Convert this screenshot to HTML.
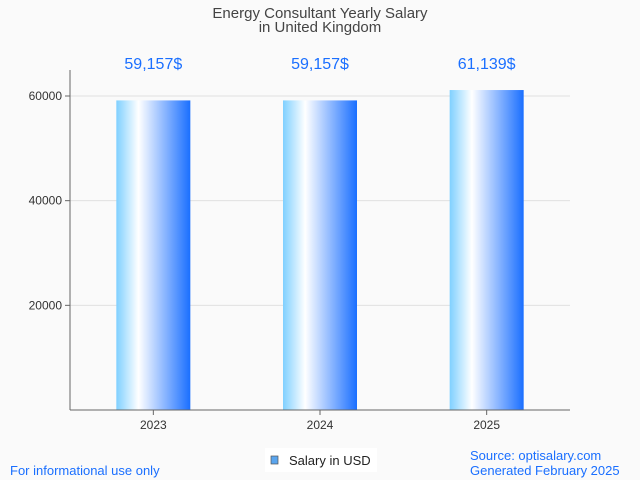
<!DOCTYPE html>
<html><head><meta charset="utf-8"><style>
body{margin:0;background:#fafafa;font-family:"Liberation Sans",sans-serif}
svg{display:block}
</style></head><body>
<svg id="c" width="640" height="480">
<defs><linearGradient id="g" x1="0" x2="1" y1="0" y2="0">
<stop offset="0" stop-color="#7fd0ff"/><stop offset="0.3" stop-color="#ffffff"/><stop offset="1" stop-color="#1a6fff"/>
</linearGradient></defs>
<text x="320" y="18" text-anchor="middle" font-size="15" fill="#444">Energy Consultant Yearly Salary</text>
<text x="320" y="32" text-anchor="middle" font-size="15" fill="#444">in United Kingdom</text>
<g id="grid"></g><g id="bars"></g>
<line x1="70" y1="70" x2="70" y2="410" stroke="#666"/>
<line x1="70" y1="410" x2="570" y2="410" stroke="#666"/>
<rect x="265" y="448" width="112" height="24" fill="#fff"/>
<rect x="271" y="456" width="7" height="8" fill="#5aa5ee" stroke="#555" stroke-width="0.7"/>
<text x="289" y="465" font-size="13" fill="#222">Salary in USD</text>
<text x="10" y="475" font-size="13" fill="#1a6fff">For informational use only</text>
<text x="470" y="460" font-size="13" fill="#1a6fff">Source: optisalary.com</text>
<text x="470" y="475" font-size="13" fill="#1a6fff">Generated February 2025</text>
</svg>
<script>
const categories=["2023","2024","2025"];
const salaries=[59157,59157,61139];
const valueLabels=["59,157$","59,157$","61,139$"];
const yTicks=[20000,40000,60000];
const NS="http://www.w3.org/2000/svg";
const x0=70,x1=570,yBase=410,yTop=96,yMaxV=60000;
const y=v=>yBase-(v/yMaxV)*(yBase-yTop);
const band=(x1-x0)/categories.length;
const cx=i=>x0+band*(i+0.5);
function mk(t,a,p){const e=document.createElementNS(NS,t);for(const k in a)e.setAttribute(k,a[k]);(p||document.getElementById('c')).appendChild(e);return e;}
const grid=document.getElementById('grid'),bars=document.getElementById('bars');
yTicks.forEach(v=>{
 const l=mk('line',{x1:x0,x2:x1,y1:y(v),y2:y(v),stroke:'#e0e0e0'},grid);
 
 
 const tk=mk('line',{x1:x0-5,x2:x0,y1:y(v),y2:y(v),stroke:'#666'},grid);
 
 
 const t=mk('text',{x:x0-8,y:y(v)+4,'text-anchor':'end','font-size':12,fill:'#333'},grid);
 t.textContent=v;
 
 
});
const bw=band*0.444;
categories.forEach((c,i)=>{
 const r=mk('rect',{x:cx(i)-bw/2,y:y(salaries[i]),width:bw,height:yBase-y(salaries[i]),fill:'url(#g)'},bars);
 
 
 const vt=mk('text',{x:cx(i),y:69,'text-anchor':'middle','font-size':16,fill:'#1a6fff'},bars);
 vt.textContent=valueLabels[i];
 
 
 const tk=mk('line',{x1:cx(i),x2:cx(i),y1:yBase,y2:yBase+5,stroke:'#666'},bars);
 
 
 const xt=mk('text',{x:cx(i),y:429,'text-anchor':'middle','font-size':12,fill:'#333'},bars);
 xt.textContent=c;
 
 
});
</script>
</body></html>
